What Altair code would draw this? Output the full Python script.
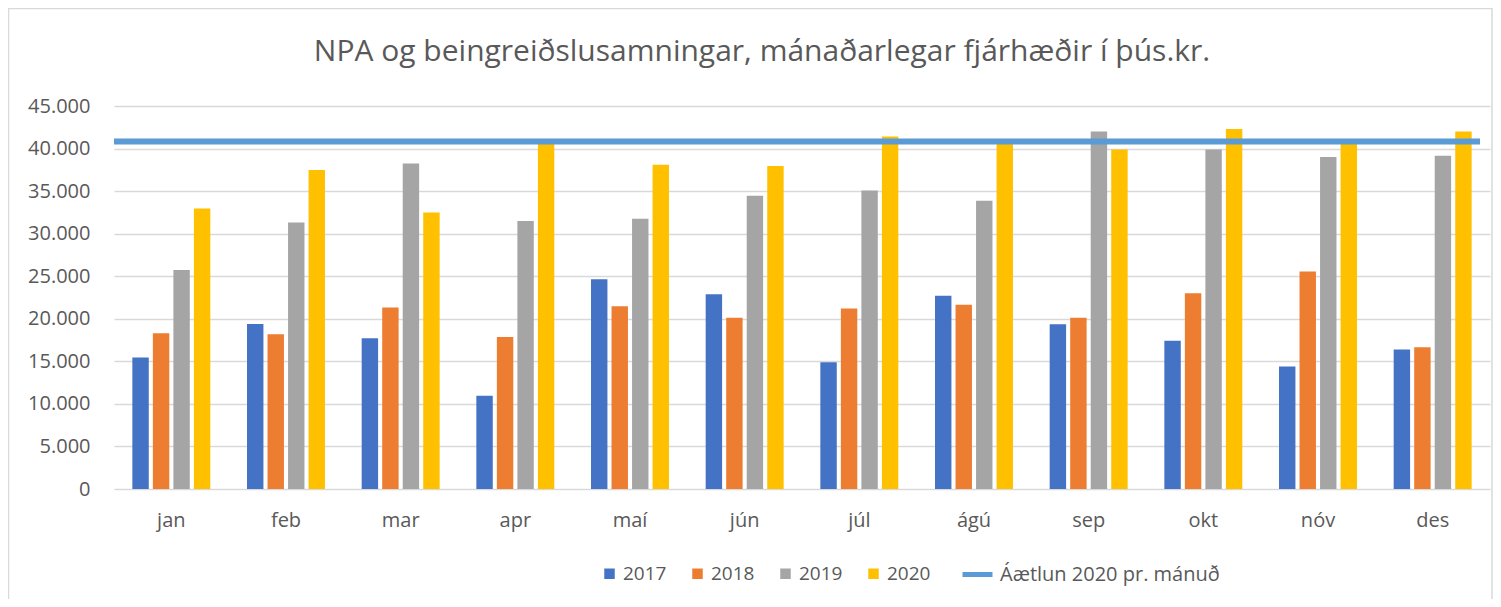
import altair as alt
import pandas as pd

months = ["jan", "feb", "mar", "apr", "maí", "jún", "júl", "ágú", "sep", "okt", "nóv", "des"]
years = ["2017", "2018", "2019", "2020"]
v2017 = [15450, 19400, 17700, 10950, 24650, 22880, 14880, 22700, 19350, 17420, 14380, 16400]
v2018 = [18300, 18180, 21320, 17870, 21470, 20130, 21200, 21650, 20130, 23000, 25550, 16650]
v2019 = [25720, 31300, 38250, 31480, 31750, 34450, 35080, 33870, 42000, 39900, 39000, 39150]
v2020 = [32950, 37480, 32500, 40600, 38100, 37940, 41420, 40700, 39900, 42300, 40700, 42000]
colors = ["#4472C4", "#ED7D31", "#A5A5A5", "#FFC000"]
plan_label = ["Áætlun 2020 pr. mánuð"]
plan_value = [40820]
title_text = ["NPA og beingreiðslusamningar, mánaðarlegar fjárhæðir í þús.kr."]

rows = []
for y, vals in zip(years, [v2017, v2018, v2019, v2020]):
    for m, v in zip(months, vals):
        rows.append({"month": m, "year": y, "value": v})
df = pd.DataFrame(rows)
plan_df = pd.DataFrame({"series": plan_label, "value": plan_value})
title_df = pd.DataFrame({"t": title_text})

W, H = 1376, 383
FONT = "Open Sans"
TXT = "#595959"

frame = alt.Chart(pd.DataFrame({"a": [0]})).mark_rect(
    fill="transparent", stroke="#D9D9D9", strokeWidth=1.5
).encode(
    x=alt.value(-105.5), x2=alt.value(W + 2), y=alt.value(-97.5), y2=alt.value(H + 130)
)

title = alt.Chart(title_df).mark_text(
    font=FONT, fontSize=30, color=TXT, align="center", baseline="alphabetic"
).encode(text="t:N", x=alt.value(648), y=alt.value(-45))

bars = alt.Chart(df).mark_bar().encode(
    x=alt.X("month:N", sort=months, title=None,
            scale=alt.Scale(paddingInner=0.32, paddingOuter=0.16),
            axis=alt.Axis(labelAngle=0, labelFont=FONT, labelFontSize=20, labelColor=TXT,
                          labelPadding=21, ticks=False, domain=False, grid=False)),
    xOffset=alt.XOffset("year:N", sort=years, scale=alt.Scale(paddingInner=0.2)),
    y=alt.Y("value:Q", title=None, scale=alt.Scale(domain=[0, 45000], nice=False),
            axis=alt.Axis(values=list(range(0, 45001, 5000)), labelFont=FONT, labelFontSize=20,
                          labelColor=TXT, labelPadding=24, ticks=False, domain=False,
                          gridColor="#D9D9D9", gridWidth=1.5,
                          labelExpr="replace(format(datum.value, ','), ',', '.')")),
    color=alt.Color("year:N", sort=years, scale=alt.Scale(domain=years, range=colors),
                    legend=alt.Legend(title=None, orient="none", direction="horizontal",
                                      legendX=486, legendY=458, symbolType="square",
                                      symbolSize=110, symbolStrokeWidth=0,
                                      labelFont=FONT, labelFontSize=19, labelColor=TXT,
                                      labelOffset=4, columnPadding=21)),
)

rule = alt.Chart(plan_df).mark_rule(strokeWidth=6).encode(
    y="value:Q",
    x=alt.value(0),
    x2=alt.value(1366),
    stroke=alt.Stroke("series:N", scale=alt.Scale(domain=plan_label, range=["#5B9BD5"]),
                      legend=alt.Legend(title=None, orient="none", legendX=846, legendY=451,
                                        symbolType="stroke", symbolSize=900,
                                        symbolStrokeWidth=5, labelFont=FONT, labelFontSize=20,
                                        labelColor=TXT, labelOffset=5, labelLimit=400)),
)

chart = alt.layer(frame, title, bars, rule).properties(
    width=W, height=H,
    autosize=alt.AutoSizeParams(type="none"),
    padding={"left": 106, "top": 98, "right": 3, "bottom": 110},
).configure_view(stroke=None)

chart.save("out.html", embed_options={"renderer": "svg", "actions": False})
